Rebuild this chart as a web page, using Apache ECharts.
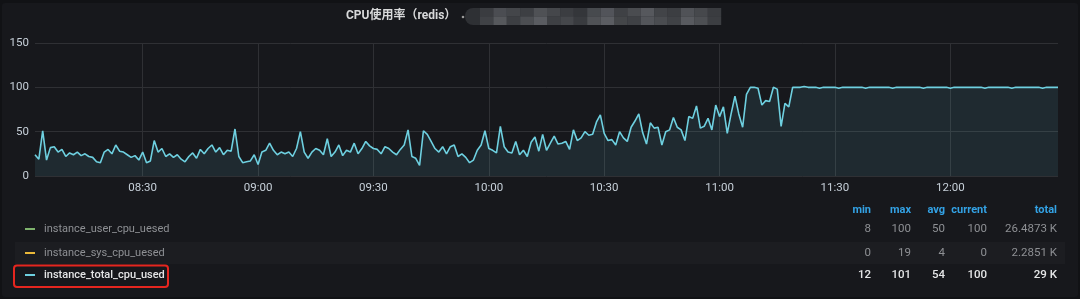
<!DOCTYPE html>
<html>
<head>
<meta charset="utf-8">
<script src="https://cdn.jsdelivr.net/npm/echarts@6/dist/echarts.min.js"></script>
<style>
  html, body { margin: 0; padding: 0; background: #111215; }
  #chart { width: 1080px; height: 299px; }
</style>
</head>
<body>
<div id="chart"></div>
<script>
// ---------- data ----------
const chartTitle = 'CPU使用率（redis）';
const startHour = 8, startMinute = 2, stepMinutes = 1;

// instance_total_cpu_used, one value per minute from 08:02 to 12:28
const totalCpuUsed = [
  24,19,51,18,32,33,27,30,22,26,24,27,23,25,22,21,16,15,27,30,25,35,28,27,24,21,23,18,27,15,17,40,27,31,22,25,21,24,19,16,22,26,20,30,25,31,35,27,32,24,
  29,28,53,22,15,16,17,24,13,27,29,37,29,24,27,25,27,22,31,50,27,20,27,31,29,24,42,22,27,35,23,29,27,37,25,31,39,34,31,30,25,33,31,27,24,30,35,52,22,20,
  12,51,47,39,31,27,33,25,33,35,22,25,21,15,18,29,35,51,31,29,26,56,33,27,26,39,24,29,22,38,44,28,47,29,37,45,36,37,39,30,52,40,43,50,46,47,61,69,48,
  40,41,35,50,43,39,55,62,70,49,36,60,54,55,35,50,52,66,55,52,40,67,65,79,54,56,65,52,80,67,78,48,70,90,70,55,92,100,100,99,80,85,84,100,98,56,82,78,100,
  100,100,101,100,100,100,99,100,100,100,100,99,100,100,100,100,100,100,99,100,100,100,100,100,100,99,100,100,100,100,100,100,100,99,100,100,100,100,100,100,
  99,100,100,100,100,100,100,100,100,99,100,100,100,100,100,100,99,100,100,100,100,100,100,100,99,100,100,100,100
];

const yTicks = [0, 50, 100, 150];

const legendNames = ['instance_user_cpu_uesed', 'instance_sys_cpu_uesed', 'instance_total_cpu_used'];
const legendColors = ['#7eb26d', '#eab839', '#6ed0e0'];
const statHeaders = ['min', 'max', 'avg', 'current', 'total'];
const statsUser  = ['8', '100', '50', '100', '26.4873 K'];
const statsSys   = ['0', '19', '4', '0', '2.2851 K'];
const statsTotal = ['12', '101', '54', '100', '29 K'];

// ---------- build ----------
function pad(n) { return (n < 10 ? '0' : '') + n; }
const categories = totalCpuUsed.map(function (_, i) {
  const m = startHour * 60 + startMinute + i * stepMinutes;
  return pad(Math.floor(m / 60)) + ':' + pad(m % 60);
});
function isHalfHour(idx, val) { return /:(00|30)$/.test(val); }

const FONT = 'Roboto, "Noto Sans CJK SC", sans-serif';
const graphics = [];

// panel background
graphics.push({ type: 'rect', z: -20, shape: { x: 2, y: 3, width: 1076, height: 294, r: 3 }, style: { fill: '#17181c' } });
// highlighted legend row
graphics.push({ type: 'rect', z: -10, shape: { x: 15, y: 242, width: 1050, height: 22 }, style: { fill: '#1c1d21' } });

// title
graphics.push({ type: 'text', x: 346, y: 16, style: { text: chartTitle, fill: '#d8d9da', font: 'bold 12px ' + FONT, textVerticalAlign: 'middle' } });
// redacted (pixelated) block after title
graphics.push({ type: 'circle', shape: { cx: 463, cy: 17, r: 1.3 }, style: { fill: '#9a9a9a' } });
graphics.push({ type: 'rect', shape: { x: 465, y: 8, width: 256, height: 17, r: [8, 0, 0, 8] }, style: { fill: '#2e3034' } });
const mosaicShades = [
  ['#3a3c40','#4b4d52','#44464a','#3d3f43','#4f5155','#45474b','#3b3d41','#34363a','#474a4e','#52545a','#3f4145','#4a4c50','#56585d','#424448','#3c3e42','#505257','#46484c','#3a3c40'],
  ['#404246','#56585c','#3d3f43','#4c4e52','#5a5c61','#3e4044','#45474b','#393b3f','#505256','#5b5d62','#444649','#3f4145','#53555a','#4a4c50','#404246','#585a5f','#4d4f53','#3c3e42']
];
mosaicShades.forEach(function (row, r) {
  row.forEach(function (c, k) {
    graphics.push({ type: 'rect', shape: { x: 480 + k * 13.4, y: 8 + r * 8.5, width: 13.4, height: 8.5 }, style: { fill: c } });
  });
});

// legend table
const colRight = [871, 911, 945, 987, 1057];
const rowY = [229, 253, 275];
statHeaders.forEach(function (h, k) {
  graphics.push({ type: 'text', x: colRight[k], y: 210, style: { text: h, fill: '#33a2e5', font: 'bold 11px ' + FONT, textAlign: 'right', textVerticalAlign: 'middle' } });
});
const allStats = [statsUser, statsSys, statsTotal];
legendNames.forEach(function (name, r) {
  const active = r === 2;
  graphics.push({ type: 'line', shape: { x1: 25, y1: rowY[r], x2: 35, y2: rowY[r] }, style: { stroke: legendColors[r], lineWidth: 2 } });
  graphics.push({ type: 'text', x: 44, y: rowY[r], style: { text: name, fill: active ? '#e4e5e6' : '#8e9094', font: (active ? '500 ' : '') + '11px ' + FONT, textVerticalAlign: 'middle' } });
  allStats[r].forEach(function (v, k) {
    graphics.push({ type: 'text', x: colRight[k], y: rowY[r], style: { text: v, fill: active ? '#e4e5e6' : '#8e9094', font: (active ? '500 ' : '') + '11.5px ' + FONT, textAlign: 'right', textVerticalAlign: 'middle' } });
  });
});
// red highlight box
graphics.push({ type: 'rect', shape: { x: 14, y: 265.5, width: 154, height: 21.5, r: 3 }, style: { fill: 'none', stroke: '#e5261f', lineWidth: 2 } });

const chart = echarts.init(document.getElementById('chart'));
chart.setOption({
  backgroundColor: '#111215',
  animation: false,
  textStyle: { fontFamily: FONT },
  grid: { left: 35, right: 22, top: 43, bottom: 123 },
  xAxis: {
    type: 'category',
    data: categories,
    boundaryGap: false,
    axisLine: { show: false },
    axisTick: { show: false },
    axisLabel: { interval: isHalfHour, color: '#c7d0d9', fontSize: 11.5, margin: 6 },
    splitLine: { show: true, interval: isHalfHour, lineStyle: { color: '#2f3034', width: 1 } }
  },
  yAxis: {
    type: 'value',
    min: yTicks[0], max: yTicks[yTicks.length - 1], interval: 50,
    axisLine: { show: false },
    axisTick: { show: false },
    axisLabel: { color: '#c7d0d9', fontSize: 11.5, margin: 6 },
    splitLine: { lineStyle: { color: '#2f3034', width: 1 } }
  },
  series: [{
    name: legendNames[2],
    type: 'line',
    data: totalCpuUsed,
    showSymbol: false,
    symbol: 'none',
    lineStyle: { color: legendColors[2], width: 1.6 },
    areaStyle: { color: legendColors[2], opacity: 0.1 }
  }],
  graphic: graphics
});
</script>
</body>
</html>
